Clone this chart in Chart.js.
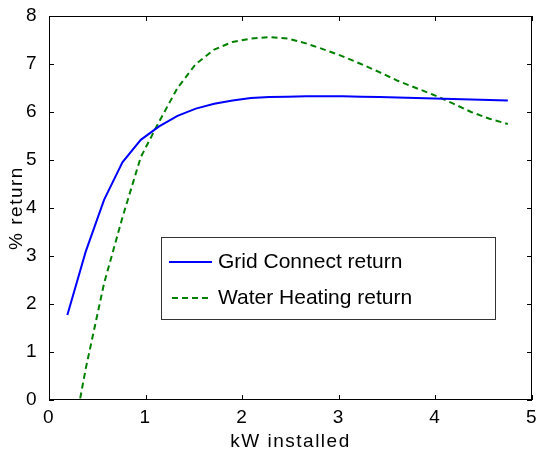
<!DOCTYPE html>
<html>
<head>
<meta charset="utf-8">
<script src="https://cdn.jsdelivr.net/npm/chart.js@4.4.0/dist/chart.umd.min.js"></script>
<style>
  html, body { margin: 0; padding: 0; background: #fff; }
</style>
</head>
<body>
<canvas id="returns" width="536" height="453"></canvas>
<script>
// values
const kwInstalled = [0.19, 0.38, 0.57, 0.76, 0.95, 1.14, 1.33, 1.52, 1.71, 1.90, 2.09, 2.28, 2.47,
  2.66, 2.85, 3.04, 3.23, 3.42, 3.61, 3.80, 3.99, 4.18, 4.37, 4.56, 4.75];
const gridConnect = [1.77, 3.09, 4.17, 4.95, 5.42, 5.70, 5.92, 6.07, 6.17, 6.24, 6.29, 6.31, 6.32,
  6.33, 6.33, 6.33, 6.32, 6.31, 6.30, 6.29, 6.28, 6.27, 6.26, 6.25, 6.24];
const waterHeating = [-1.4, 0.65, 2.43, 3.80, 5.06, 5.80, 6.50, 7.00, 7.30, 7.46, 7.53, 7.56, 7.53,
  7.43, 7.30, 7.16, 7.00, 6.83, 6.65, 6.50, 6.35, 6.18, 6.00, 5.86, 5.75];
const seriesNames = ["Grid Connect return", "Water Heating return"];
const xTicks = [0, 1, 2, 3, 4, 5];
const yTicks = [0, 1, 2, 3, 4, 5, 6, 7, 8];

const toPoints = (ys) => kwInstalled.map((x, i) => ({ x: x, y: ys[i] }));

Chart.defaults.font.family = "'Liberation Sans', Arial, Helvetica, sans-serif";
Chart.defaults.color = "#000";

// the matlab text is a bit wider than Liberation Sans
const wideText = {
  id: "wideText",
  beforeDraw(chart) {
    chart.ctx.letterSpacing = "1.5px";
  },
};

// MATLAB style box with inward ticks on all four sides
const matlabAxes = {
  id: "matlabAxes",
  afterDatasetsDraw(chart) {
    const { ctx, chartArea: a, scales } = chart;
    const len = 5;
    ctx.save();
    ctx.strokeStyle = "#000";
    ctx.lineWidth = 1;
    ctx.strokeRect(a.left + 0.5, a.top + 0.5, a.right - a.left - 1, a.bottom - a.top - 1);
    ctx.beginPath();
    xTicks.forEach((v) => {
      const px = Math.round(scales.x.getPixelForValue(v)) + 0.5;
      ctx.moveTo(px, a.bottom);
      ctx.lineTo(px, a.bottom - len);
      ctx.moveTo(px, a.top);
      ctx.lineTo(px, a.top + len);
    });
    yTicks.forEach((v) => {
      const py = Math.round(scales.y.getPixelForValue(v)) + 0.5;
      ctx.moveTo(a.left, py);
      ctx.lineTo(a.left + len, py);
      ctx.moveTo(a.right, py);
      ctx.lineTo(a.right - len, py);
    });
    ctx.stroke();
    ctx.restore();
  },
};

// legend box placed inside the axes
const boxLegend = {
  id: "boxLegend",
  afterDraw(chart) {
    const { ctx, chartArea: a } = chart;
    const left = a.left + 112, top = a.top + 221, w = 334, h = 82;
    ctx.save();
    ctx.letterSpacing = "0px";
    ctx.fillStyle = "#fff";
    ctx.fillRect(left, top, w, h);
    ctx.strokeStyle = "#333";
    ctx.lineWidth = 1;
    ctx.strokeRect(left + 0.5, top + 0.5, w, h);
    ctx.font = "21px 'Liberation Sans', Arial, Helvetica, sans-serif";
    ctx.textBaseline = "middle";
    chart.data.datasets.forEach((ds, i) => {
      const y = top + 25 + i * 36;
      ctx.strokeStyle = ds.borderColor;
      ctx.lineWidth = ds.borderWidth;
      ctx.setLineDash(ds.borderDash || []);
      ctx.beginPath();
      ctx.moveTo(left + (i ? 11 : 8), y);
      ctx.lineTo(left + 51, y);
      ctx.stroke();
      ctx.setLineDash([]);
      ctx.fillStyle = "#000";
      ctx.fillText(ds.label, left + 57, y);
    });
    ctx.restore();
  },
};

new Chart(document.getElementById("returns"), {
  type: "line",
  data: {
    datasets: [
      {
        label: seriesNames[0],
        data: toPoints(gridConnect),
        borderColor: "#0000ff",
        borderWidth: 2,
        pointRadius: 0,
        tension: 0,
      },
      {
        label: seriesNames[1],
        data: toPoints(waterHeating),
        borderColor: "#008000",
        borderWidth: 2,
        borderDash: [6, 4],
        pointRadius: 0,
        tension: 0,
      },
    ],
  },
  options: {
    responsive: false,
    animation: false,
    layout: { padding: { left: 0, top: 16, right: 4, bottom: 0 } },
    plugins: {
      legend: { display: false },
      tooltip: { enabled: false },
    },
    scales: {
      x: {
        type: "linear",
        min: 0,
        max: 5,
        afterBuildTicks: (s) => { s.ticks = xTicks.map((v) => ({ value: v })); },
        ticks: { font: { size: 19 }, padding: -2, maxRotation: 0 },
        grid: { display: false },
        border: { display: false },
        title: { display: true, text: "kW installed", font: { size: 19 }, padding: { top: 0, bottom: 0 } },
        afterFit: (s) => {
          s.height = 53;
          s.paddingLeft = 0;
          s.paddingRight = 0;
        },
      },
      y: {
        min: 0,
        max: 8,
        afterBuildTicks: (s) => { s.ticks = yTicks.map((v) => ({ value: v })); },
        ticks: { font: { size: 19 }, padding: 3 },
        grid: { display: false },
        border: { display: false },
        title: { display: true, text: "% return", font: { size: 19 }, padding: { top: 5, bottom: 0 } },
        afterFit: (s) => {
          s.width = 49;
          s.paddingTop = 0;
          s.paddingBottom = 0;
        },
      },
    },
  },
  plugins: [wideText, matlabAxes, boxLegend],
});
</script>
</body>
</html>
